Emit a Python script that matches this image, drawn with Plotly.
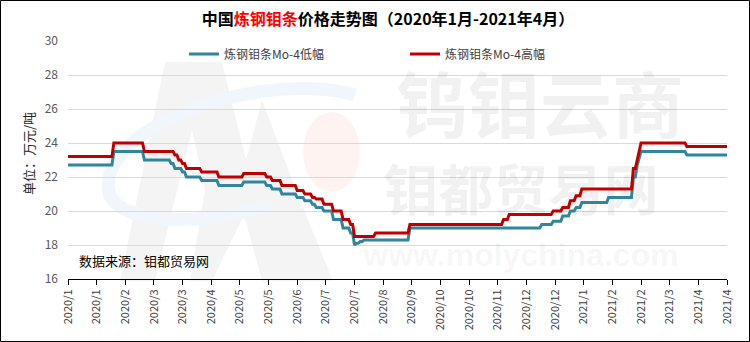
import numpy as np
import pandas as pd
import plotly.graph_objects as go

# ---------------- data ----------------
trade_days = pd.bdate_range("2020-01-02", "2021-04-29")

series_names = ["炼钢钼条Mo-4低幅", "炼钢钼条Mo-4高幅"]
series_colors = ["#31859C", "#C00000"]

low_change_dates = [
    "2020-01-02", "2020-02-05", "2020-02-27", "2020-03-18", "2020-03-20", "2020-03-26",
    "2020-03-30", "2020-04-09", "2020-04-22", "2020-05-11", "2020-05-27", "2020-06-01",
    "2020-06-08", "2020-06-18", "2020-06-24", "2020-06-30", "2020-07-02", "2020-07-08",
    "2020-07-15", "2020-07-22", "2020-07-28", "2020-07-30", "2020-07-31", "2020-08-04",
    "2020-08-06", "2020-09-09", "2020-12-15", "2020-12-23", "2020-12-30", "2021-01-05",
    "2021-01-08", "2021-01-13", "2021-02-02", "2021-02-19", "2021-02-23", "2021-02-24",
    "2021-02-25", "2021-03-31",
]
low_change_values = [
    22.7, 23.5, 23.0, 22.8, 22.5, 22.3,
    22.0, 21.8, 21.5, 21.7, 21.5, 21.3,
    21.0, 20.8, 20.6, 20.4, 20.2, 20.0,
    19.5, 19.0, 18.7, 18.0, 18.1, 18.2,
    18.3, 19.0, 19.2, 19.4, 19.7, 20.0,
    20.2, 20.5, 20.8, 22.0, 22.7, 23.1,
    23.5, 23.3,
]

high_change_dates = [
    "2020-01-02", "2020-02-05", "2020-02-27", "2020-03-20", "2020-03-24", "2020-03-26",
    "2020-03-30", "2020-04-09", "2020-04-22", "2020-05-11", "2020-05-27", "2020-06-01",
    "2020-06-08", "2020-06-18", "2020-06-24", "2020-06-30", "2020-07-02", "2020-07-08",
    "2020-07-15", "2020-07-22", "2020-07-28", "2020-07-30", "2020-08-14", "2020-09-09",
    "2020-11-17", "2020-11-20", "2020-12-23", "2020-12-30", "2021-01-05", "2021-01-08",
    "2021-01-13", "2021-02-19", "2021-02-23", "2021-02-24", "2021-02-25", "2021-03-31",
]
high_change_values = [
    23.2, 24.0, 23.5, 23.3, 23.0, 22.8,
    22.5, 22.3, 22.0, 22.2, 22.0, 21.8,
    21.5, 21.2, 21.0, 20.8, 20.7, 20.4,
    20.0, 19.5, 19.2, 18.5, 18.7, 19.2,
    19.5, 19.8, 20.0, 20.2, 20.6, 20.9,
    21.3, 22.5, 23.0, 23.5, 24.0, 23.8,
]

y_ticks = [16, 18, 20, 22, 24, 26, 28, 30]
label_every = 15

title_html = ("<b>中国<span style='color:#FF0000'>炼钢钼条</span>"
              "价格走势图（2020年1月-2021年4月）</b>")
y_title = "单位：万元/吨"
source_text = "数据来源：钼都贸易网"
wm_lines = ["钨钼云商", "钼都贸易网", "www.molychina.com"]


def expand(dates, values):
    s = pd.Series(values, index=pd.to_datetime(dates))
    return s.reindex(trade_days, method="ffill")


low_series = expand(low_change_dates, low_change_values)
high_series = expand(high_change_dates, high_change_values)

# ---------------- layout helpers ----------------
W, H = 750, 342
PL, PR, PT, PB = 68, 727, 41, 279
N = len(trade_days)
x_idx = np.arange(N)
FONT = "Noto Sans CJK SC"


def pxx(p):
    return (p - PL) / (PR - PL)


def pxy(p):
    return (PB - p) / (PB - PT)


def to_data(px, py):
    return (px - PL) * (N - 1) / (PR - PL), 16 + (PB - py) * 14 / (PB - PT)


def path_from(points, close=True):
    s = "M " + " L ".join(f"{pxx(a):.4f},{pxy(b):.4f}" for a, b in points)
    return s + (" Z" if close else "")


fig = go.Figure()

# watermark text (drawn first, under the lines)
wm_specs = [
    (wm_lines[0], 540, 114, 72, FONT),
    (wm_lines[1], 521, 196, 55, FONT),
    (wm_lines[2], 521, 258, 32, "Liberation Sans"),
]
for txt, cx, cy, size, fam in wm_specs:
    xx, yy = to_data(cx, cy)
    fig.add_trace(go.Scatter(
        x=[xx], y=[yy], mode="text", text=[txt],
        textfont=dict(family=fam, size=size, color="rgba(0,0,0,0.055)", weight="bold"),
        hoverinfo="skip", showlegend=False, cliponaxis=False,
    ))

for name, color, ser in zip(series_names, series_colors, [low_series, high_series]):
    fig.add_trace(go.Scatter(
        x=x_idx, y=ser.values, mode="lines", name=name,
        line=dict(color=color, width=3),
        customdata=[d.strftime("%Y-%m-%d") for d in trade_days],
        hovertemplate="%{customdata}<br>%{y}<extra>" + name + "</extra>",
    ))

tickvals = list(x_idx[::label_every])
ticktext = [f"{d.year}/{d.month}" for d in trade_days[::label_every]]

shapes = [
    # big "M" logo watermark
    dict(type="path", xref="paper", yref="paper", layer="below", line=dict(width=0),
         fillcolor="#f4f4f4",
         path=path_from([(120, 281), (165, 62), (222, 62), (246, 160), (262, 100),
                         (300, 200), (333, 281), (262, 281), (244, 215), (212, 281),
                         (190, 281), (205, 190), (192, 130), (155, 281)])),
    # light blue swoosh
    dict(type="path", xref="paper", yref="paper", layer="below",
         line=dict(color="#f0f6fb", width=13),
         path=("M {a},{b} C {c},{d} {e},{f} {g},{h} C {i},{j} {k},{l} {m},{n}".format(
             a=pxx(355), b=pxy(95), c=pxx(270), d=pxy(70), e=pxx(110), f=pxy(120),
             g=pxx(108), h=pxy(185), i=pxx(106), j=pxy(225), k=pxx(200), l=pxy(228),
             m=pxx(270), n=pxy(205)))),
    # pink circle
    dict(type="circle", xref="paper", yref="paper", layer="below", line=dict(width=0),
         fillcolor="#fef3f1",
         x0=pxx(303), x1=pxx(360), y0=pxy(192), y1=pxy(112)),
    # outer border
    dict(type="rect", xref="paper", yref="paper", line=dict(color="#000000", width=1),
         x0=(0.5 - PL) / (PR - PL), x1=(W - 0.5 - PL) / (PR - PL),
         y0=(PB - (H - 0.5)) / (PB - PT), y1=(PB - 0.5) / (PB - PT)),
]

fig.update_layout(
    width=W, height=H,
    margin=dict(l=PL, r=W - PR, t=PT, b=H - PB, pad=0),
    paper_bgcolor="white", plot_bgcolor="white",
    font=dict(family=FONT, color="#404040"),
    title=dict(text=title_html, x=388 / W, xanchor="center", xref="container",
               y=1 - 19 / H, yanchor="middle", yref="container",
               font=dict(family=FONT, size=16, color="#000000")),
    xaxis=dict(range=[0, N - 1], tickmode="array", tickvals=tickvals, ticktext=ticktext,
               tickangle=-90, tickfont=dict(size=11, color="#404040", family=FONT),
               showgrid=False, zeroline=False, showline=True, linecolor="#000000",
               linewidth=1, ticks="outside", ticklen=5, tickcolor="#000000"),
    yaxis=dict(range=[16, 30], tickmode="array", tickvals=y_ticks,
               tickfont=dict(size=12, color="#595959", family=FONT),
               showgrid=True, gridcolor="#d9d9d9", gridwidth=1, zeroline=False,
               showline=False, ticks="", ticklabelstandoff=9),
    legend=dict(orientation="h", x=pxx(184), y=pxy(54), xanchor="left", yanchor="middle",
                entrywidth=176, entrywidthmode="pixels", bgcolor="rgba(0,0,0,0)",
                font=dict(size=12, color="#404040", family=FONT), itemwidth=30,
                tracegroupgap=0),
    shapes=shapes,
    annotations=[
        dict(text=y_title, xref="paper", yref="paper", x=pxx(28), y=pxy(154),
             textangle=-90, showarrow=False, xanchor="center", yanchor="middle",
             font=dict(size=13, color="#262626", family=FONT)),
        dict(text=source_text, xref="paper", yref="paper", x=pxx(77), y=pxy(260),
             showarrow=False, xanchor="left", yanchor="middle",
             font=dict(size=13, color="#000000", family=FONT)),
    ],
    showlegend=True,
)

fig.write_html("out.html")
